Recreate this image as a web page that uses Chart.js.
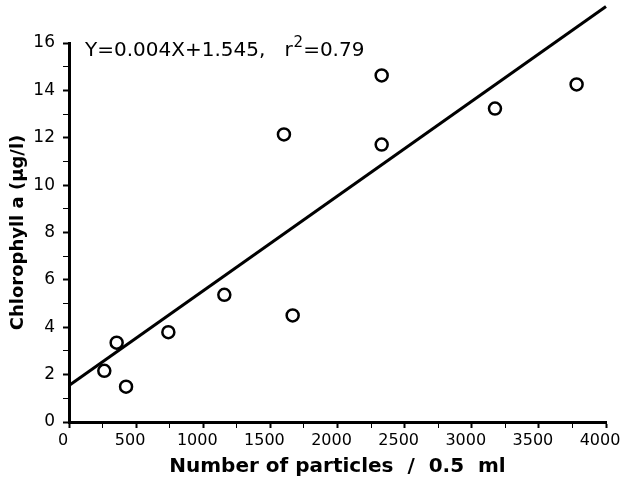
<!DOCTYPE html>
<html>
<head>
<meta charset="utf-8">
<script src="https://cdn.jsdelivr.net/npm/chart.js@4"></script>
<style>
html,body{margin:0;padding:0;background:#fff;}
#wrap{width:621px;height:479px;position:relative;}
</style>
</head>
<body>
<div id="wrap"><canvas id="c" width="621" height="479"></canvas></div>
<script>
const particles = [263, 355, 425, 740, 1157, 1666, 1601, 2329, 2329, 3173, 3781];
const chlorophyll = [2.16, 3.35, 1.49, 3.79, 5.37, 4.5, 12.14, 14.63, 11.71, 13.23, 14.25];
// Regression from the printed equation
const slope = 0.004;
const intercept = 1.545;
const fitX = [0, 4000];
const xTicks = [0, 500, 1000, 1500, 2000, 2500, 3000, 3500, 4000];
const yTicks = [0, 2, 4, 6, 8, 10, 12, 14, 16];
const equationText = 'Y=0.004X+1.545,   r';
const r2Text = '=0.79';

const points = particles.map((x, i) => ({x: x, y: chlorophyll[i]}));
const fit = fitX.map(x => ({x: x, y: slope * x + intercept}));

const eqPlugin = {
  id: 'eq',
  afterDraw(chart) {
    const ctx = chart.ctx;
    ctx.save();
    ctx.fillStyle = '#000';
    ctx.textBaseline = 'alphabetic';
    ctx.font = '20px "DejaVu Sans"';
    const x0 = 85, y0 = 56;
    ctx.fillText(equationText, x0, y0);
    let w = ctx.measureText(equationText).width;
    ctx.font = '15px "DejaVu Sans"';
    ctx.fillText('2', x0 + w + 1, y0 - 9);
    let w2 = ctx.measureText('2').width;
    ctx.font = '20px "DejaVu Sans"';
    ctx.fillText(r2Text, x0 + w + w2 + 1, y0);
    ctx.restore();
  }
};

new Chart(document.getElementById('c'), {
  type: 'scatter',
  data: {
    datasets: [
      {
        data: points,
        showLine: false,
        pointStyle: 'circle',
        pointRadius: 6,
        pointBorderWidth: 2.5,
        pointBorderColor: '#000',
        pointBackgroundColor: '#fff',
        order: 1
      },
      {
        type: 'line',
        data: fit,
        borderColor: '#000',
        borderWidth: 3,
        pointRadius: 0,
        fill: false,
        clip: false,
        order: 2
      }
    ]
  },
  options: {
    responsive: false,
    animation: false,
    devicePixelRatio: 1,
    layout: {padding: {top: 43, right: 15, left: 0, bottom: 0}},
    plugins: {legend: {display: false}, tooltip: {enabled: false}},
    scales: {
      x: {
        type: 'linear',
        min: 0, max: 4000,
        afterFit(s) { s.height = 57; s.paddingRight = 15; s.paddingLeft = 0; },
        afterBuildTicks(s) { const t = []; for (let v = 0; v <= 4000; v += 250) t.push({value: v}); s.ticks = t; },
        border: {display: true, color: '#000', width: 3},
        grid: {
          display: true, drawOnChartArea: false, drawTicks: true, tickLength: 6,
          tickColor: '#000',
          tickWidth: c => (c.tick && xTicks.includes(c.tick.value)) ? 2 : 1
        },
        ticks: {
          autoSkip: false, maxRotation: 0, padding: 3, color: '#000', labelOffset: -6,
          font: {family: 'DejaVu Sans', size: 16},
          callback: v => xTicks.includes(v) ? String(v) : ''
        },
        title: {
          display: true, text: 'Number of particles  /  0.5  ml', color: '#000',
          font: {family: 'DejaVu Sans', size: 20, weight: 'bold'},
          padding: {top: 1, bottom: 0}
        }
      },
      y: {
        type: 'linear',
        min: 0, max: 16,
        afterFit(s) { s.width = 69; s.paddingTop = 0; s.paddingBottom = 0; },
        afterBuildTicks(s) { const t = []; for (let v = 0; v <= 16; v += 1) t.push({value: v}); s.ticks = t; },
        border: {display: true, color: '#000', width: 3},
        grid: {
          display: true, drawOnChartArea: false, drawTicks: true, tickLength: 6,
          tickColor: '#000',
          tickWidth: c => (c.tick && yTicks.includes(c.tick.value)) ? 2 : 1
        },
        ticks: {
          autoSkip: false, padding: 8, color: '#000',
          font: {family: 'DejaVu Sans', size: 17},
          callback: v => yTicks.includes(v) ? String(v) : ''
        },
        title: {
          display: true, text: 'Chlorophyll a (µg/l)', color: '#000',
          font: {family: 'DejaVu Sans', size: 18, weight: 'bold'},
          padding: {top: 8, bottom: 2}
        }
      }
    }
  },
  plugins: [eqPlugin]
});
</script>
</body>
</html>
